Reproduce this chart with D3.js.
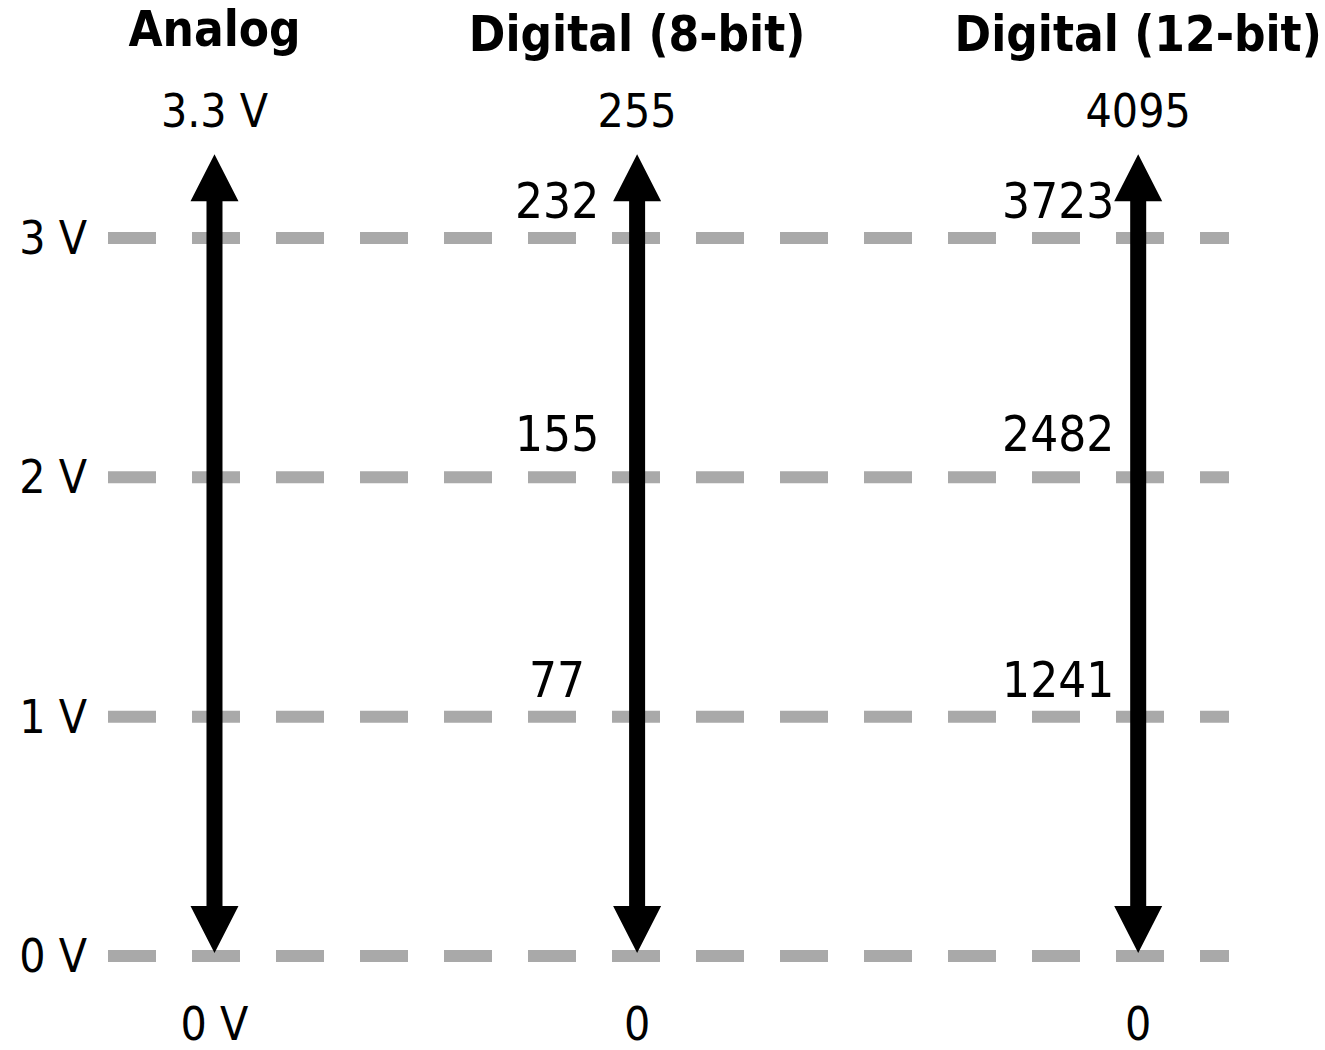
<!DOCTYPE html>
<html>
<head>
<meta charset="utf-8">
<script src="https://cdn.jsdelivr.net/npm/d3@7"></script>
<style>
  html, body { margin: 0; padding: 0; background: #fff; }
  svg text { font-family: "DejaVu Sans Condensed", "DejaVu Sans", sans-serif; font-stretch: condensed; }
</style>
</head>
<body>
<div id="chart"></div>
<script>
// columns of the diagram
const columns = ["Analog", "Digital (8-bit)", "Digital (12-bit)"];
const columnPos = [9.5, 47.2, 91.9];
const topLabels = ["3.3 V", "255", "4095"];
const bottomLabels = ["0 V", "0", "0"];

// reference voltages and the matching codes
const voltages = [0, 1, 2, 3];
const voltLabels = ["0 V", "1 V", "2 V", "3 V"];
const codes8 = [null, 77, 155, 232];
const codes12 = [null, 1241, 2482, 3723];

// arrow span in volts
const arrowSpan = [0.0125, 3.35];

window.onload = function () {
  const width = 1325, height = 1050;

  const svg = d3.select("#chart").append("svg")
    .attr("width", width)
    .attr("height", height);

  const x = d3.scaleLinear().domain([0, 100]).range([108, 1229]);
  const y = d3.scaleLinear().domain([0, 3]).range([956, 238]);

  // title baselines (titles with parentheses sit a little lower)
  const titleY = [46, 51, 51];
  // how far the code labels sit above their line
  const codeLift = { 1: 20, 2: 26, 3: 20 };

  // dashed reference lines
  svg.append("g").selectAll("line")
    .data(voltages)
    .join("line")
    .attr("x1", x(0)).attr("x2", x(100))
    .attr("y1", d => y(d)).attr("y2", d => y(d))
    .attr("stroke", "#a9a9a9")
    .attr("stroke-width", 12)
    .attr("stroke-dasharray", "48,36");

  // left labels
  svg.append("g").selectAll("text")
    .data(voltages)
    .join("text")
    .attr("x", 87)
    .attr("y", d => y(d))
    .attr("text-anchor", "end")
    .attr("dominant-baseline", "central")
    .attr("font-size", 46)
    .text((d, i) => voltLabels[i]);

  // double arrows
  const shaft = 8, headW = 24, headL = 47;
  function arrowPath(cx) {
    const y0 = y(arrowSpan[0]), y1 = y(arrowSpan[1]);
    const p = d3.path();
    p.moveTo(cx, y1);
    p.lineTo(cx + headW, y1 + headL);
    p.lineTo(cx + shaft, y1 + headL);
    p.lineTo(cx + shaft, y0 - headL);
    p.lineTo(cx + headW, y0 - headL);
    p.lineTo(cx, y0);
    p.lineTo(cx - headW, y0 - headL);
    p.lineTo(cx - shaft, y0 - headL);
    p.lineTo(cx - shaft, y1 + headL);
    p.lineTo(cx - headW, y1 + headL);
    p.closePath();
    return p.toString();
  }
  svg.append("g").selectAll("path")
    .data(columnPos)
    .join("path")
    .attr("d", d => arrowPath(x(d)))
    .attr("fill", "#000");

  // titles
  svg.append("g").selectAll("text")
    .data(columns)
    .join("text")
    .attr("x", (d, i) => x(columnPos[i]))
    .attr("y", (d, i) => titleY[i])
    .attr("text-anchor", "middle")
    .attr("font-size", 49)
    .attr("font-weight", "bold")
    .text(d => d);

  // top and bottom values
  svg.append("g").selectAll("text")
    .data(topLabels)
    .join("text")
    .attr("x", (d, i) => x(columnPos[i]))
    .attr("y", 127)
    .attr("text-anchor", "middle")
    .attr("font-size", 46)
    .text(d => d);

  svg.append("g").selectAll("text")
    .data(bottomLabels)
    .join("text")
    .attr("x", (d, i) => x(columnPos[i]))
    .attr("y", 1040)
    .attr("text-anchor", "middle")
    .attr("font-size", 46)
    .text(d => d);

  // codes next to the digital arrows
  [[codes8, columnPos[1]], [codes12, columnPos[2]]].forEach(([codes, pos]) => {
    svg.append("g").selectAll("text")
      .data(voltages.filter((v, i) => codes[i] !== null))
      .join("text")
      .attr("x", x(pos) - 80)
      .attr("y", d => y(d) - codeLift[d])
      .attr("text-anchor", "middle")
      .attr("font-size", 49)
      .text(d => codes[voltages.indexOf(d)]);
  });
};
</script>
</body>
</html>
